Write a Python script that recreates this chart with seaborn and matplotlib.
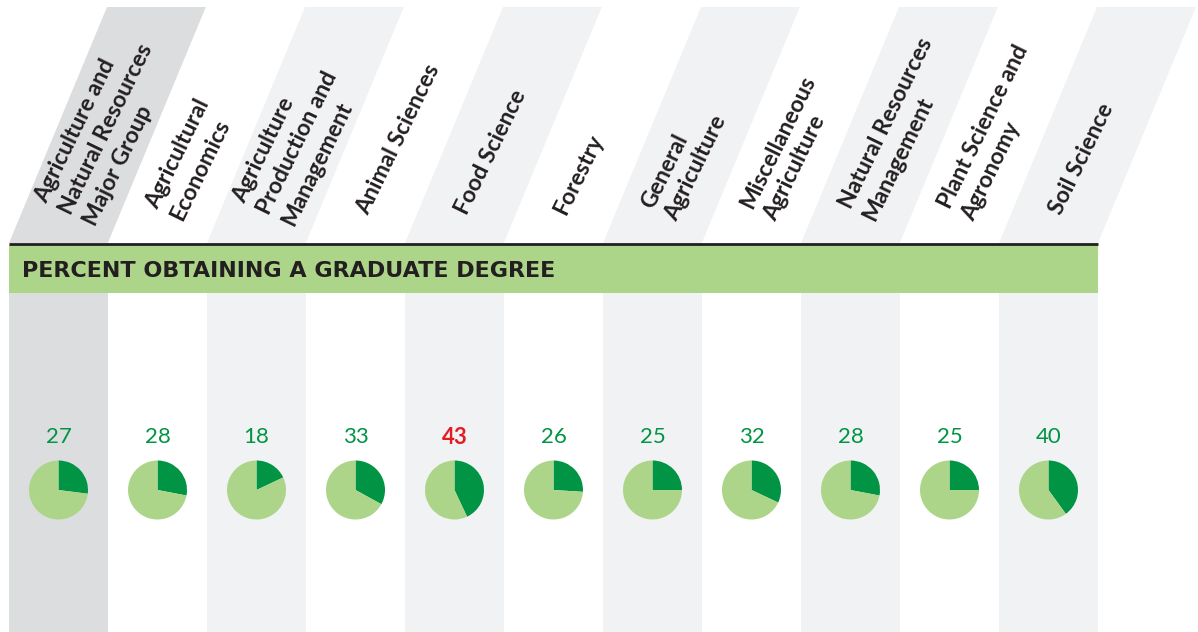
import numpy as np
import pandas as pd
import matplotlib.pyplot as plt
import seaborn as sns
from matplotlib.patches import Polygon, Rectangle

# Data
majors = [
    "Agriculture and\nNatural Resources\nMajor Group",
    "Agricultural\nEconomics",
    "Agriculture\nProduction and\nManagement",
    "Animal Sciences",
    "Food Science",
    "Forestry",
    "General\nAgriculture",
    "Miscellaneous\nAgriculture",
    "Natural Resources\nManagement",
    "Plant Science and\nAgronomy",
    "Soil Science",
]
pct_graduate = [27, 28, 18, 33, 43, 26, 25, 32, 28, 25, 40]
highlight = [False, False, False, False, True, False, False, False, False, False, False]
banner_title = "PERCENT OBTAINING A GRADUATE DEGREE"

# Colours
DARK_GRAY = "#dcdddf"
LIGHT_GRAY = "#f1f2f3"
BANNER = "#acd58a"
DARK_GREEN = "#009444"
LIGHT_GREEN = "#acd58a"
RED = "#e31b23"
INK = "#231f20"

W, H = 1198, 632
sns.set_style("white")
plt.rcParams['font.family'] = ['Lato', 'DejaVu Sans']

fig = plt.figure(figsize=(W / 100, H / 100), dpi=100)
ax = fig.add_axes([0, 0, 1, 1])


def Y(py):
    # pixel row -> data y (origin at bottom)
    return H - py


left = 9
col_w = 99
shift = 98
head_top, head_bot = 7, 243
band_top, band_bot = 245, 293

for i, (name, v, hl) in enumerate(zip(majors, pct_graduate, highlight)):
    x0 = left + i * col_w
    if i == 0:
        fc = DARK_GRAY
    elif i % 2 == 0:
        fc = LIGHT_GRAY
    else:
        fc = "white"
    # slanted header band
    ax.add_patch(Polygon([(x0, Y(head_bot)), (x0 + col_w, Y(head_bot)),
                          (x0 + col_w + shift, Y(head_top)), (x0 + shift, Y(head_top))],
                         closed=True, fc=fc, ec="none", zorder=1))
    # column body
    ax.add_patch(Rectangle((x0, Y(H)), col_w, H - band_bot, fc=fc, ec="none", zorder=1))
    # header label
    ax.text(x0 + 56, Y(213), name, rotation=64, rotation_mode="anchor",
            ha="left", va="center", multialignment="left", linespacing=1.35,
            fontsize=16.5, fontweight="bold", color=INK, zorder=3)
    # value
    ax.text(x0 + col_w / 2, Y(437), str(v), ha="center", va="center",
            fontsize=16, fontweight="bold" if hl else "normal",
            color=RED if hl else DARK_GREEN, zorder=3)
    # pie
    ax.pie([v, 100 - v], colors=[DARK_GREEN, LIGHT_GREEN], startangle=90,
           counterclock=False, center=(x0 + col_w / 2, Y(490)), radius=29.5,
           wedgeprops=dict(linewidth=0), frame=True)

ncol = len(majors)
right = left + ncol * col_w
ax.add_patch(Rectangle((left, Y(band_bot)), right - left, band_bot - band_top,
                       fc=BANNER, ec="none", zorder=2))
ax.plot([left, right], [Y(244), Y(244)], color=INK, lw=2, solid_capstyle="butt", zorder=3)
ax.text(22, Y(271), banner_title, ha="left", va="center", fontsize=16,
        fontweight="bold", color=INK, family="DejaVu Sans", zorder=3)

ax.set_xlim(0, W)
ax.set_ylim(0, H)
ax.set_aspect("auto")
ax.axis("off")
fig.savefig("out.png", dpi=100, facecolor="white")
